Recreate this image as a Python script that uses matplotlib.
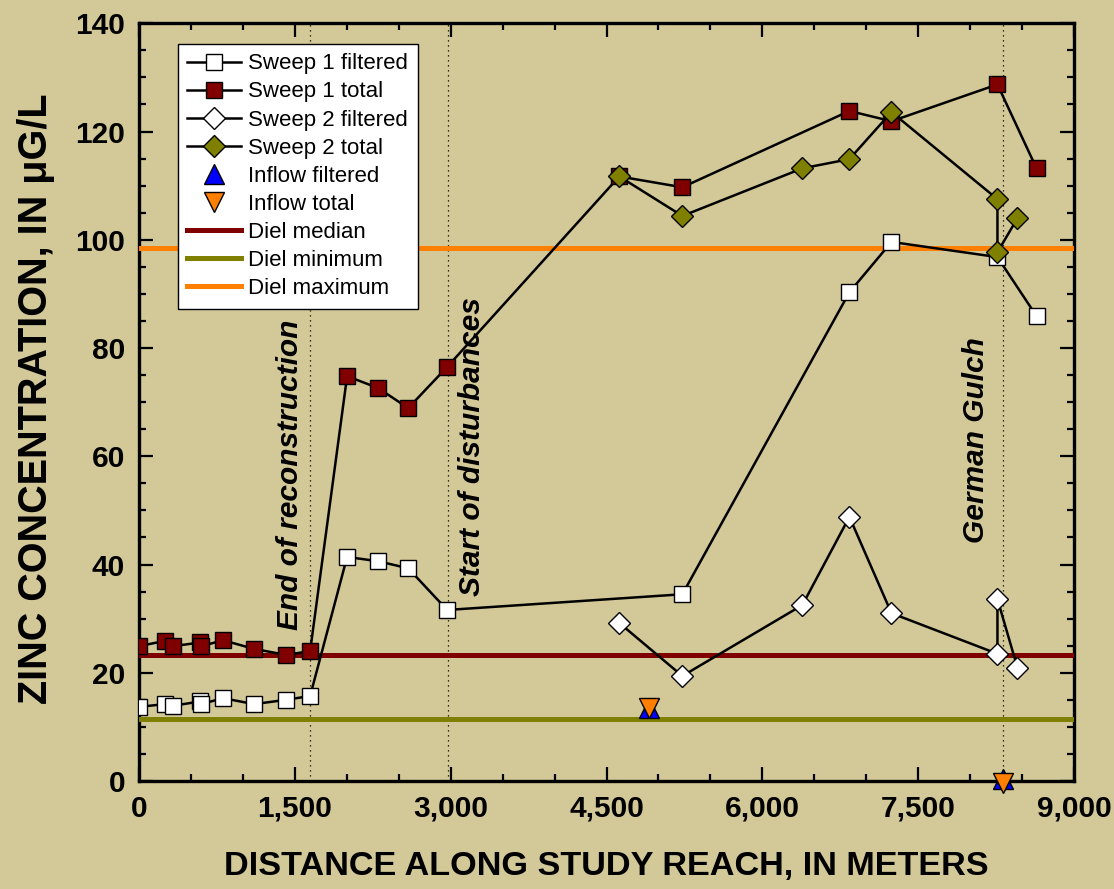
import matplotlib
matplotlib.use("Agg")
import matplotlib.pyplot as plt
from matplotlib.ticker import MultipleLocator, FuncFormatter

# ---- data ----
s1f_dist = [0, 250, 327, 590, 597, 809, 1108, 1416, 1647, 2003, 2302, 2591, 2966, 5230, 6838, 7243, 8263, 8639]
s1f_zn = [13.7, 14.2, 13.9, 14.7, 14.2, 15.3, 14.2, 15.0, 15.7, 41.4, 40.6, 39.3, 31.6, 34.5, 90.3, 99.6, 96.8, 85.9]

s1t_dist = [0, 250, 327, 590, 597, 809, 1108, 1416, 1647, 2003, 2302, 2591, 2966, 4623, 5230, 6838, 7243, 8263, 8639]
s1t_zn = [24.9, 25.9, 24.9, 25.6, 24.9, 26.0, 24.4, 23.3, 24.0, 74.8, 72.6, 68.9, 76.5, 111.7, 109.7, 123.8, 121.9, 128.7, 113.2]

s2_dist = [4623, 5230, 6385, 6838, 7243, 8263, 8263, 8456]
s2f_zn = [29.2, 19.4, 32.5, 48.8, 31.0, 23.5, 33.6, 20.9]
s2t_zn = [111.7, 104.4, 113.2, 114.9, 123.6, 107.5, 97.7, 104.0]

inflow_dist = [4912, 8321]
inflow_filt = [13.5, 0.4]
inflow_tot = [13.5, -0.4]

diel_median = 23.3
diel_minimum = 11.4
diel_maximum = 98.4

landmark_dist = [1650, 2970, 8320]
landmark_text = ["End of reconstruction", "Start of disturbances", "German Gulch"]
landmark_text_x = [1455, 3205, 8060]
landmark_text_y = [56.5, 61.7, 63.0]

# ---- style ----
BG = "#D3C898"
plt.rcParams['font.family'] = ['Liberation Sans', 'DejaVu Sans']

fig = plt.figure(figsize=(11.14, 8.89), dpi=100, facecolor=BG)
ax = fig.add_axes([0.1248, 0.1215, 0.8393, 0.8523], facecolor=BG)

ms = 11
line_kw = dict(color='black', lw=1.8, markeredgecolor='black', markeredgewidth=1.0, ms=ms)
ax.plot(s1f_dist, s1f_zn, marker='s', markerfacecolor='white', label='Sweep 1 filtered', zorder=5, **line_kw)
ax.plot(s1t_dist, s1t_zn, marker='s', markerfacecolor='#800000', label='Sweep 1 total', zorder=5, **line_kw)
ax.plot(s2_dist, s2f_zn, marker='D', markerfacecolor='white', label='Sweep 2 filtered', zorder=6, **line_kw)
ax.plot(s2_dist, s2t_zn, marker='D', markerfacecolor='#808000', label='Sweep 2 total', zorder=6, **line_kw)
ax.plot(inflow_dist, inflow_filt, ls='none', marker='^', ms=14, markerfacecolor='#0000FF',
        markeredgecolor='black', markeredgewidth=1.0, label='Inflow filtered', zorder=7, clip_on=False)
ax.plot(inflow_dist, inflow_tot, ls='none', marker='v', ms=14, markerfacecolor='#FF8000',
        markeredgecolor='black', markeredgewidth=1.0, label='Inflow total', zorder=8, clip_on=False)

ax.axhline(diel_median, color='#800000', lw=3.6, label='Diel median', zorder=4)
ax.axhline(diel_minimum, color='#808000', lw=3.6, label='Diel minimum', zorder=4)
ax.axhline(diel_maximum, color='#FF8000', lw=3.6, label='Diel maximum', zorder=4)

for xv in landmark_dist:
    ax.axvline(xv, color='black', lw=0.9, ls=(0, (1, 3)), zorder=2)
for tx, ty, t in zip(landmark_text_x, landmark_text_y, landmark_text):
    ax.text(tx, ty, t, rotation=90, ha='center', va='center', fontsize=21.5,
            fontweight='bold', fontstyle='italic', zorder=3)

ax.set_xlim(0, 9000)
ax.set_ylim(0, 140)
ax.xaxis.set_major_locator(MultipleLocator(1500))
ax.xaxis.set_minor_locator(MultipleLocator(500))
ax.yaxis.set_major_locator(MultipleLocator(20))
ax.yaxis.set_minor_locator(MultipleLocator(5))
ax.xaxis.set_major_formatter(FuncFormatter(lambda v, p: f"{int(round(v)):,}"))

ax.tick_params(which='both', direction='in', top=True, right=True, width=1.6)
ax.tick_params(which='major', length=10, labelsize=21.5, pad=10)
ax.tick_params(which='minor', length=5)
for lab in ax.get_xticklabels() + ax.get_yticklabels():
    lab.set_fontweight('bold')
for sp in ax.spines.values():
    sp.set_linewidth(2.4)

ax.set_xlabel('DISTANCE ALONG STUDY REACH, IN METERS', fontsize=24.7, fontweight='bold')
ax.set_ylabel('ZINC CONCENTRATION, IN μG/L', fontsize=28.5, fontweight='bold')
ax.xaxis.set_label_coords(0.4995, -0.092)
ax.yaxis.set_label_coords(-0.09, 0.505)

leg = ax.legend(loc='upper left', bbox_to_anchor=(0.0417, 0.9727), borderaxespad=0,
                fontsize=16, frameon=True, fancybox=False, edgecolor='black',
                facecolor='white', framealpha=1, handlelength=2.4, handletextpad=0.35,
                labelspacing=0.32, borderpad=0.42)
leg.get_frame().set_linewidth(1.0)
leg.set_zorder(10)

fig.savefig('out.png', dpi=100, facecolor=BG)
